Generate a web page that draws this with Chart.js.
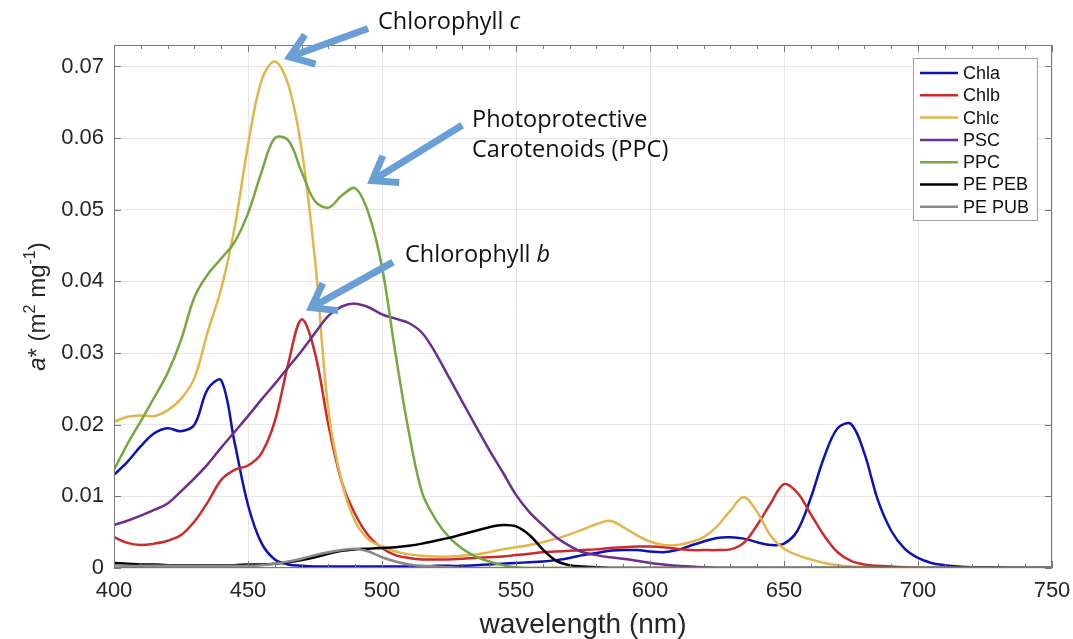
<!DOCTYPE html>
<html>
<head>
<meta charset="utf-8">
<script src="https://cdn.jsdelivr.net/npm/chart.js@4.4.1/dist/chart.umd.min.js"></script>
<style>
  html, body { margin: 0; padding: 0; background: #fff; }
  #wrap { width: 1073px; height: 639px; }
</style>
</head>
<body>
<div id="wrap"><canvas id="chart" width="1073" height="639"></canvas></div>
<script>
// wavelength grid (nm), 5 nm steps
const wavelength = [
  400, 405, 410, 415, 420, 425, 430, 435, 440, 445,
  450, 455, 460, 465, 470, 475, 480, 485, 490, 495,
  500, 505, 510, 515, 520, 525, 530, 535, 540, 545,
  550, 555, 560, 565, 570, 575, 580, 585, 590, 595,
  600, 605, 610, 615, 620, 625, 630, 635, 640, 645,
  650, 655, 660, 665, 670, 675, 680, 685, 690, 695,
  700, 705, 710, 715, 720, 725, 730, 735, 740, 745, 750
];

// specific absorption a* (m2 mg-1)
const chla = [
  0.0130, 0.0148, 0.0170, 0.0188, 0.0195, 0.0191, 0.0200, 0.0250, 0.0262, 0.0175,
  0.0088, 0.0035, 0.0012, 0.0005, 0.0003, 0.0002, 0.0002, 0.0002, 0.0002, 0.0002,
  0.0002, 0.0002, 0.0002, 0.0002, 0.0003, 0.0003, 0.0003, 0.0004, 0.0005, 0.0006,
  0.0007, 0.0008, 0.0009, 0.0011, 0.0014, 0.0018, 0.0021, 0.0024, 0.0025, 0.0025,
  0.0023, 0.0022, 0.0025, 0.0031, 0.0037, 0.0042, 0.0043, 0.0041, 0.0036, 0.0032,
  0.0034, 0.0052, 0.0098, 0.0155, 0.0195, 0.0201, 0.0160, 0.0095, 0.0052, 0.0027,
  0.0014, 0.0007, 0.0004, 0.0002, 0.0001, 0.0001, 0.0001, 0, 0, 0, 0
];
const chlb = [
  0.0043, 0.0035, 0.0032, 0.0034, 0.0038, 0.0046, 0.0065, 0.0092, 0.0123, 0.0137,
  0.0143, 0.0160, 0.0205, 0.0285, 0.0347, 0.0300, 0.0200, 0.0120, 0.0075, 0.0045,
  0.0028, 0.0018, 0.0014, 0.0012, 0.0012, 0.0012, 0.0013, 0.0014, 0.0015, 0.0016,
  0.0018, 0.0020, 0.0022, 0.0023, 0.0024, 0.0025, 0.0026, 0.0028, 0.0029, 0.0030,
  0.0030, 0.0029, 0.0027, 0.0025, 0.0025, 0.0025, 0.0026, 0.0035, 0.0060, 0.0090,
  0.0117, 0.0105, 0.0075, 0.0045, 0.0022, 0.0010, 0.0005, 0.0003, 0.0002, 0.0001,
  0, 0, 0, 0, 0, 0, 0, 0, 0, 0, 0
];
const chlc = [
  0.0204, 0.0211, 0.0213, 0.0212, 0.0220, 0.0236, 0.0265, 0.0330, 0.0390, 0.0475,
  0.0590, 0.0680, 0.0707, 0.0675, 0.0585, 0.0430, 0.0220, 0.0120, 0.0065, 0.0040,
  0.0030, 0.0023, 0.0019, 0.0017, 0.0016, 0.0016, 0.0017, 0.0019, 0.0022, 0.0026,
  0.0029, 0.0032, 0.0036, 0.0041, 0.0047, 0.0054, 0.0061, 0.0066, 0.0057, 0.0046,
  0.0037, 0.0032, 0.0032, 0.0036, 0.0043, 0.0058, 0.0080, 0.0099, 0.0078, 0.0045,
  0.0027, 0.0018, 0.0012, 0.0007, 0.0004, 0.0002, 0.0001, 0, 0, 0,
  0, 0, 0, 0, 0, 0, 0, 0, 0, 0, 0
];
const psc = [
  0.0060, 0.0066, 0.0073, 0.0081, 0.0090, 0.0107, 0.0125, 0.0145, 0.0168, 0.0190,
  0.0212, 0.0235, 0.0257, 0.0280, 0.0303, 0.0328, 0.0352, 0.0365, 0.0369, 0.0364,
  0.0354, 0.0348, 0.0342, 0.0328, 0.0300, 0.0266, 0.0232, 0.0198, 0.0165, 0.0134,
  0.0102, 0.0078, 0.0060, 0.0043, 0.0031, 0.0022, 0.0018, 0.0015, 0.0013, 0.0010,
  0.0007, 0.0005, 0.0003, 0.0002, 0.0001, 0, 0, 0, 0, 0,
  0, 0, 0, 0, 0, 0, 0, 0, 0, 0,
  0, 0, 0, 0, 0, 0, 0, 0, 0, 0, 0
];
const ppc = [
  0.0137, 0.0173, 0.0205, 0.0238, 0.0272, 0.0318, 0.0378, 0.0410, 0.0432, 0.0455,
  0.0495, 0.0552, 0.0600, 0.0597, 0.0553, 0.0512, 0.0503, 0.0520, 0.0530, 0.0495,
  0.0420, 0.0300, 0.0190, 0.0105, 0.0068, 0.0043, 0.0027, 0.0016, 0.0009, 0.0004,
  0.0001, 0, 0, 0, 0, 0, 0, 0, 0, 0,
  0, 0, 0, 0, 0, 0, 0, 0, 0, 0,
  0, 0, 0, 0, 0, 0, 0, 0, 0, 0,
  0, 0, 0, 0, 0, 0, 0, 0, 0, 0, 0
];
const pePeb = [
  0.0007, 0.0006, 0.0005, 0.0005, 0.0004, 0.0004, 0.0004, 0.0004, 0.0004, 0.0004,
  0.0005, 0.0005, 0.0006, 0.0008, 0.0011, 0.0015, 0.0020, 0.0024, 0.0026, 0.0027,
  0.0028, 0.0029, 0.0031, 0.0034, 0.0038, 0.0042, 0.0047, 0.0052, 0.0057, 0.0060,
  0.0058, 0.0046, 0.0026, 0.0010, 0.0004, 0.0002, 0.0001, 0, 0, 0,
  0, 0, 0, 0, 0, 0, 0, 0, 0, 0,
  0, 0, 0, 0, 0, 0, 0, 0, 0, 0,
  0, 0, 0, 0, 0, 0, 0, 0, 0, 0, 0
];
const pePub = [
  0.0004, 0.0003, 0.0003, 0.0003, 0.0003, 0.0003, 0.0003, 0.0003, 0.0003, 0.0003,
  0.0003, 0.0004, 0.0006, 0.0009, 0.0013, 0.0018, 0.0022, 0.0025, 0.0027, 0.0023,
  0.0015, 0.0009, 0.0005, 0.0003, 0.0002, 0.0001, 0, 0, 0, 0,
  0, 0, 0, 0, 0, 0, 0, 0, 0, 0,
  0, 0, 0, 0, 0, 0, 0, 0, 0, 0,
  0, 0, 0, 0, 0, 0, 0, 0, 0, 0,
  0, 0, 0, 0, 0, 0, 0, 0, 0, 0, 0
];

const seriesNames = ['Chla', 'Chlb', 'Chlc', 'PSC', 'PPC', 'PE PEB', 'PE PUB'];
const seriesValues = [chla, chlb, chlc, psc, ppc, pePeb, pePub];
const seriesColors = ['#0d12b4', '#cc2b2b', '#e2b64c', '#6c2e8c', '#77a83f', '#000000', '#8a8a8a'];

const yTicks = [0, 0.01, 0.02, 0.03, 0.04, 0.05, 0.06, 0.07];

const AXIS_FONT = '"Liberation Sans", Arial, Helvetica, sans-serif';
const NOTE_FONT = '"Open Sans", "Noto Sans", sans-serif';
const ARROW_BLUE = '#6a9fd6';

// MATLAB-like box, inward ticks, y label, legend and annotations
const decorPlugin = {
  id: 'decor',
  afterDatasetsDraw(chart) {
    const { ctx, chartArea: a, scales: { x, y } } = chart;
    ctx.save();
    ctx.strokeStyle = '#7a7a7a';
    ctx.lineWidth = 1;
    ctx.strokeRect(a.left + 0.5, a.top + 0.5, a.right - a.left - 1, a.bottom - a.top - 1);
    ctx.beginPath();
    for (let w = x.min; w <= x.max; w += 10) {
      const px = Math.round(x.getPixelForValue(w)) + 0.5;
      const len = w % 50 === 0 ? 7 : 4;
      ctx.moveTo(px, a.bottom); ctx.lineTo(px, a.bottom - len);
      ctx.moveTo(px, a.top); ctx.lineTo(px, a.top + len);
    }
    yTicks.forEach(v => {
      const py = Math.round(y.getPixelForValue(v)) + 0.5;
      ctx.moveTo(a.left, py); ctx.lineTo(a.left + 7, py);
      ctx.moveTo(a.right, py); ctx.lineTo(a.right - 7, py);
    });
    ctx.stroke();
    ctx.restore();
  },
  afterDraw(chart) {
    const { ctx, chartArea: a, scales: { x, y } } = chart;
    ctx.save();

    // y axis title: a* (m^2 mg^-1)
    const parts = [
      { t: 'a', f: 'italic 24px ' + AXIS_FONT, dy: 0 },
      { t: '* (m', f: '24px ' + AXIS_FONT, dy: 0 },
      { t: '2', f: '16px ' + AXIS_FONT, dy: -10 },
      { t: ' mg', f: '24px ' + AXIS_FONT, dy: 0 },
      { t: '-1', f: '16px ' + AXIS_FONT, dy: -10 },
      { t: ')', f: '24px ' + AXIS_FONT, dy: 0 }
    ];
    let total = 0;
    parts.forEach(p => { ctx.font = p.f; p.w = ctx.measureText(p.t).width; total += p.w; });
    ctx.translate(45, (a.top + a.bottom) / 2);
    ctx.rotate(-Math.PI / 2);
    ctx.fillStyle = '#262626';
    ctx.textBaseline = 'alphabetic';
    let cx = -total / 2;
    parts.forEach(p => { ctx.font = p.f; ctx.fillText(p.t, cx, p.dy); cx += p.w; });
    ctx.setTransform(1, 0, 0, 1, 0, 0);

    // legend
    const lx = a.right - 139, ly = a.top + 13, lw = 124, lh = 162;
    ctx.fillStyle = '#ffffff';
    ctx.fillRect(lx, ly, lw, lh);
    ctx.strokeStyle = '#a0a0a0';
    ctx.lineWidth = 1;
    ctx.strokeRect(lx + 0.5, ly + 0.5, lw, lh);
    ctx.font = '18px ' + AXIS_FONT;
    ctx.textBaseline = 'middle';
    ctx.textAlign = 'left';
    seriesNames.forEach((name, i) => {
      const ry = ly + 15 + i * 22.3;
      ctx.strokeStyle = seriesColors[i];
      ctx.lineWidth = 2.5;
      ctx.beginPath(); ctx.moveTo(lx + 7, ry); ctx.lineTo(lx + 45, ry); ctx.stroke();
      ctx.fillStyle = '#111';
      ctx.fillText(name, lx + 50, ry + 1);
    });

    // annotations, anchored in data units
    const P = (w, v) => [x.getPixelForValue(w), y.getPixelForValue(v)];
    const arrow = (tail, tip) => {
      const [x1, y1] = tail, [x2, y2] = tip;
      const ang = Math.atan2(y2 - y1, x2 - x1);
      ctx.strokeStyle = ARROW_BLUE;
      ctx.lineWidth = 7;
      ctx.lineCap = 'butt';
      ctx.lineJoin = 'miter';
      ctx.beginPath();
      ctx.moveTo(x1, y1);
      ctx.lineTo(x2 - 4 * Math.cos(ang), y2 - 4 * Math.sin(ang));
      ctx.stroke();
      const h = 27, s = 0.62;
      const bx = x2 - 5 * Math.cos(ang), by = y2 - 5 * Math.sin(ang);
      ctx.beginPath();
      ctx.moveTo(bx - h * Math.cos(ang - s), by - h * Math.sin(ang - s));
      ctx.lineTo(bx, by);
      ctx.lineTo(bx - h * Math.cos(ang + s), by - h * Math.sin(ang + s));
      ctx.stroke();
    };
    const note = (pos, segs) => {
      let [tx, ty] = pos;
      ctx.fillStyle = '#111';
      ctx.textBaseline = 'alphabetic';
      ctx.textAlign = 'left';
      segs.forEach(([t, italic]) => {
        ctx.font = (italic ? 'italic ' : '') + '23.5px ' + NOTE_FONT;
        ctx.fillText(t, tx, ty);
        tx += ctx.measureText(t).width;
      });
    };

    arrow(P(494.8, 0.0753), P(463.8, 0.0711));
    note(P(498.5, 0.0753), [['Chlorophyll ', false], ['c', true]]);

    arrow(P(529.9, 0.0618), P(494.8, 0.0537));
    note(P(533.6, 0.0615), [['Photoprotective', false]]);
    note(P(533.6, 0.0573), [['Carotenoids (PPC)', false]]);

    arrow(P(504.1, 0.0427), P(472.0, 0.0360));
    note(P(508.6, 0.0427), [['Chlorophyll ', false], ['b', true]]);

    ctx.restore();
  }
};

const datasets = seriesNames.map((name, i) => ({
  label: name,
  data: wavelength.map((w, k) => ({ x: w, y: seriesValues[i][k] })),
  borderColor: seriesColors[i],
  backgroundColor: seriesColors[i],
  borderWidth: 2.5,
  pointRadius: 0,
  fill: false,
  tension: 0.35,
  order: seriesNames.length - i
}));

new Chart(document.getElementById('chart'), {
  type: 'line',
  data: { datasets },
  options: {
    responsive: false,
    animation: false,
    layout: { padding: { left: 0, right: 21, top: 45, bottom: 0 } },
    plugins: {
      legend: { display: false },
      tooltip: { enabled: false }
    },
    scales: {
      x: {
        type: 'linear',
        min: 400,
        max: 750,
        grid: { color: '#e6e6e6', drawTicks: false },
        border: { display: false },
        ticks: {
          stepSize: 50,
          padding: 10,
          maxRotation: 0,
          color: '#262626',
          font: { family: AXIS_FONT, size: 22 }
        },
        title: {
          display: true,
          text: 'wavelength (nm)',
          color: '#262626',
          font: { family: AXIS_FONT, size: 28, lineHeight: 1 },
          padding: { top: 0, bottom: 0 }
        },
        afterFit(scale) {
          scale.height = 71;
          scale.paddingLeft = 0;
          scale.paddingRight = 0;
        }
      },
      y: {
        min: 0,
        max: 0.073,
        grid: { color: '#e6e6e6', drawTicks: false },
        border: { display: false },
        ticks: {
          stepSize: 0.01,
          padding: 10,
          color: '#262626',
          font: { family: AXIS_FONT, size: 22 },
          callback: v => (v === 0 ? '0' : v.toFixed(2))
        },
        afterBuildTicks(scale) {
          scale.ticks = yTicks.map(v => ({ value: v }));
        },
        afterFit(scale) { scale.width = 114; }
      }
    }
  },
  plugins: [decorPlugin]
});
</script>
</body>
</html>
